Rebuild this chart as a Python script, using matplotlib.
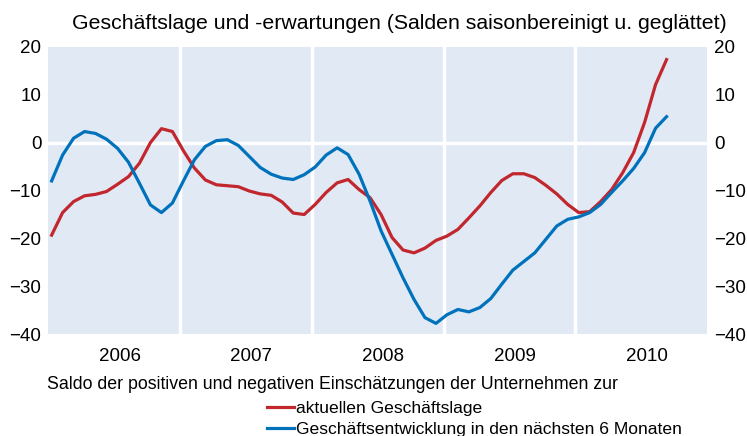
import numpy as np
import matplotlib
matplotlib.use('Agg')
import matplotlib.pyplot as plt

plt.rcParams['font.family'] = ['Liberation Sans', 'DejaVu Sans']

# monthly values, Jan 2006 .. Sep 2010
lage = [-19.3, -14.6, -12.3, -11.1, -10.8, -10.2, -8.7, -7.1, -4.3, 0.0, 2.9, 2.3,
        -1.7, -5.3, -7.8, -8.8, -9.0, -9.2, -10.1, -10.7, -11.0, -12.4, -14.7, -15.0,
        -12.9, -10.4, -8.4, -7.7, -9.8, -11.5, -15.0, -19.8, -22.4, -23.0, -22.0, -20.4,
        -19.5, -18.1, -15.7, -13.2, -10.4, -7.9, -6.5, -6.5, -7.3, -8.9, -10.7, -12.9,
        -14.6, -14.4, -12.3, -9.8, -6.3, -2.1, 4.2, 12.1, 17.3]
erwartung = [-8.0, -2.6, 0.9, 2.3, 1.9, 0.7, -1.2, -4.1, -8.5, -13.0, -14.6, -12.6,
             -8.0, -3.6, -0.8, 0.4, 0.6, -0.6, -2.9, -5.2, -6.6, -7.4, -7.7, -6.7,
             -5.1, -2.6, -1.1, -2.5, -6.6, -12.2, -18.4, -23.3, -28.2, -32.7, -36.5, -37.7,
             -35.9, -34.8, -35.3, -34.4, -32.5, -29.5, -26.6, -24.8, -23.0, -20.2, -17.4, -16.0,
             -15.5, -14.6, -12.9, -10.4, -8.0, -5.4, -2.1, 3.0, 5.4]
years = ['2006', '2007', '2008', '2009', '2010']
yticks = [-40, -30, -20, -10, 0, 10, 20]

red = '#C1272D'
blue = '#0072BC'

fig = plt.figure(figsize=(7.47, 4.36), dpi=100)
ax = fig.add_axes([0.0647, 0.233, 0.882, 0.66])
ax.set_facecolor('#E1E9F5')

x = np.arange(len(lage)) + 0.3
ax.plot(x, lage, color=red, lw=2.3, label='aktuellen Geschäftslage')
ax.plot(x, erwartung, color=blue, lw=2.3, label='Geschäftsentwicklung in den nächsten 6 Monaten')

ax.set_xlim(0, 12 * len(years))
ax.set_ylim(-40, 20)

# white separators between years and at zero
for k in range(1, len(years)):
    ax.axvline(12 * k, color='white', lw=2.5, zorder=1)
ax.axhline(0, color='white', lw=2.5, zorder=1)

ax.set_yticks(yticks)
ax.tick_params(axis='y', which='both', length=0, labelsize=13.5, pad=5,
               labelleft=True, labelright=True)
ax.set_xticks([12 * k + 6.5 for k in range(len(years))])
ax.set_xticklabels(years)
ax.tick_params(axis='x', length=0, labelsize=13.5, pad=10)
for s in ax.spines.values():
    s.set_visible(False)

fig.text(0.535, 0.947, 'Geschäftslage und -erwartungen (Salden saisonbereinigt u. geglättet)',
         ha='center', va='center', fontsize=15.3)
fig.text(0.063, 0.117, 'Saldo der positiven und negativen Einschätzungen der Unternehmen zur',
         ha='left', va='center', fontsize=12.8)

leg = ax.legend(loc='upper left', bbox_to_anchor=(0.357, 0.08), bbox_transform=fig.transFigure,
                frameon=False, fontsize=12.6, handlelength=1.55, handletextpad=0.15,
                labelspacing=0.3, borderpad=0, borderaxespad=0)

fig.savefig('out.png', dpi=100)
